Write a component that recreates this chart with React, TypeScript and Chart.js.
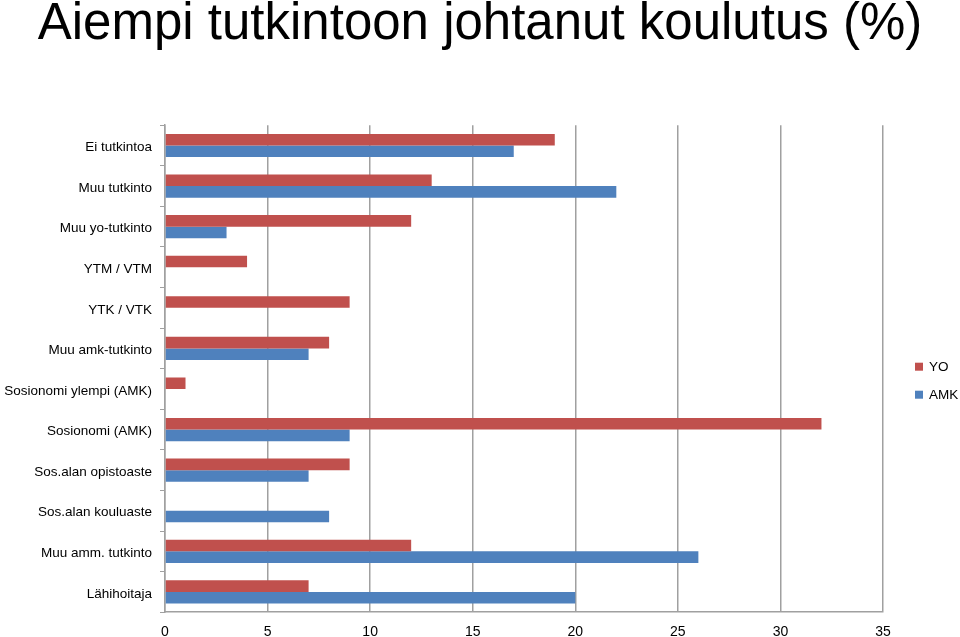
import React, { useEffect, useRef } from "react";
import { Chart, registerables, layouts } from "chart.js";

Chart.register(...registerables);

const categories = [
  "Ei tutkintoa",
  "Muu tutkinto",
  "Muu yo-tutkinto",
  "YTM / VTM",
  "YTK / VTK",
  "Muu amk-tutkinto",
  "Sosionomi ylempi (AMK)",
  "Sosionomi (AMK)",
  "Sos.alan opistoaste",
  "Sos.alan kouluaste",
  "Muu amm. tutkinto",
  "Lähihoitaja",
];
const yoValues = [19, 13, 12, 4, 9, 8, 1, 32, 9, 0, 12, 7];
const amkValues = [17, 22, 3, 0, 0, 7, 0, 9, 7, 8, 26, 20];
const xTicks = [0, 5, 10, 15, 20, 25, 30, 35];

function makeLegendBox(chart: any) {
  const box: any = {
    position: "right",
    weight: 0,
    fullSize: false,
    options: {},
    width: 77,
    height: 0,
    isHorizontal() {
      return false;
    },
    update(_maxWidth: number, maxHeight: number) {
      box.width = 77;
      box.height = maxHeight;
      return { width: box.width, height: box.height };
    },
    draw() {
      const { ctx, chartArea } = chart;
      const x = chartArea.right + 32;
      const cy = (chartArea.top + chartArea.bottom) / 2 + 12;
      const spacing = 28;
      const ds = chart.data.datasets;
      ctx.save();
      ctx.font = "13.5px 'Liberation Sans'";
      ctx.textBaseline = "middle";
      ctx.textAlign = "left";
      ds.forEach((d: any, i: number) => {
        const y = cy + (i - (ds.length - 1) / 2) * spacing;
        ctx.fillStyle = d.backgroundColor;
        ctx.fillRect(x, y - 4, 8, 8);
        ctx.fillStyle = "#000";
        ctx.fillText(d.label, x + 14, y + 1);
      });
      ctx.restore();
    },
  };
  return box;
}

const sideLegend = {
  id: "sideLegend",
  beforeInit(chart: any) {
    layouts.addBox(chart, makeLegendBox(chart));
  },
};

export default function App() {
  const ref = useRef<HTMLCanvasElement | null>(null);
  useEffect(() => {
    if (!ref.current) return;
    const chart = new Chart(ref.current, {
      type: "bar",
      data: {
        labels: categories,
        datasets: [
          {
            label: "YO",
            data: yoValues,
            backgroundColor: "#C0504D",
            barPercentage: 1,
            categoryPercentage: 0.57,
          },
          {
            label: "AMK",
            data: amkValues,
            backgroundColor: "#4F81BD",
            barPercentage: 1,
            categoryPercentage: 0.57,
          },
        ],
      },
      plugins: [sideLegend],
      options: {
        indexAxis: "y",
        animation: false,
        responsive: false,
        layout: { padding: { left: 0, right: 0, top: 0, bottom: -16 } },
        plugins: {
          title: {
            display: true,
            text: "Aiempi tutkintoon johtanut koulutus (%)",
            color: "#000",
            font: { family: "Liberation Sans", size: 51, weight: "normal" },
            padding: { top: -6, bottom: 70 },
          },
          legend: { display: false },
          tooltip: { enabled: false },
        },
        scales: {
          x: {
            min: 0,
            max: 35,
            afterBuildTicks: (s: any) => {
              s.ticks = xTicks.map((v) => ({ value: v }));
            },
            grid: { color: "#a0a0a0", lineWidth: 1.5, drawTicks: false },
            border: { color: "#a0a0a0", width: 1.5 },
            ticks: {
              color: "#000",
              padding: 12,
              font: { family: "Liberation Sans", size: 14 },
            },
          },
          y: {
            afterFit: (s: any) => {
              s.width = 165;
            },
            grid: {
              offset: true,
              drawOnChartArea: false,
              color: "#a0a0a0",
              tickLength: 5,
            },
            border: { color: "#a0a0a0", width: 1.5 },
            ticks: {
              color: "#000",
              padding: 8,
              labelOffset: 2,
              font: { family: "Liberation Sans", size: 13.5 },
            },
          },
        },
      },
    });
    return () => chart.destroy();
  }, []);
  return (
    <div style={{ position: "fixed", left: 0, top: 0, width: 960, height: 637, background: "#fff" }}>
      <canvas ref={ref} width={960} height={637} />
    </div>
  );
}
